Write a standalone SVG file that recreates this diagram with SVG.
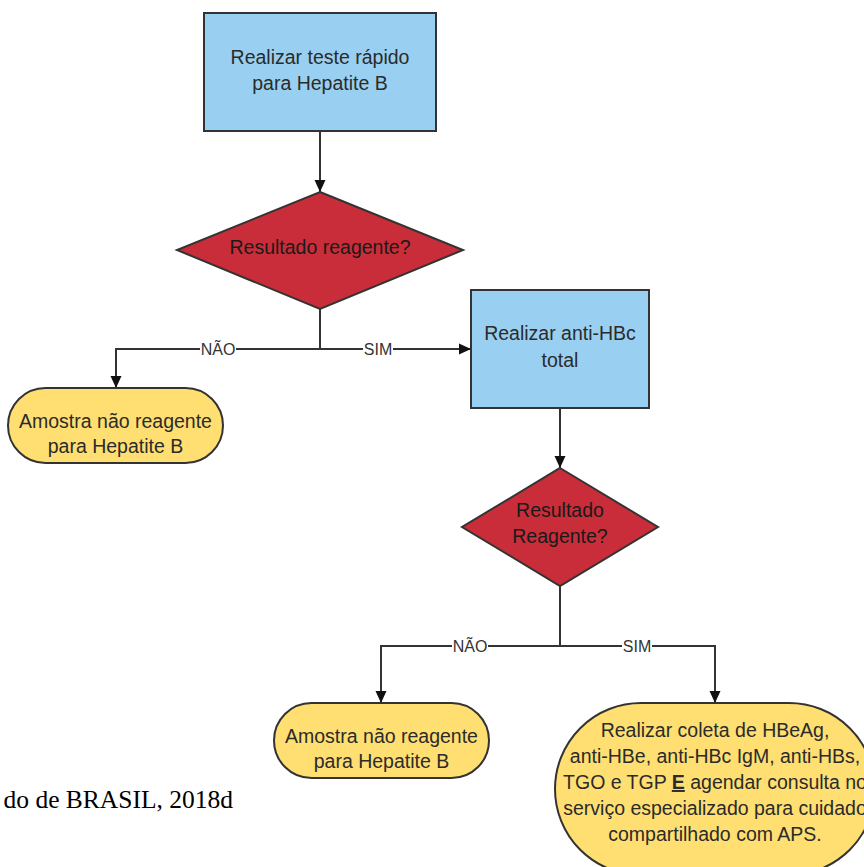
<svg xmlns="http://www.w3.org/2000/svg" width="864" height="867" viewBox="0 0 864 867">
  <style>
    .proc { fill: #99d0f1; stroke: #333333; stroke-width: 2; }
    .dec { fill: #c92d39; stroke: #333333; stroke-width: 2; }
    .term { fill: #ffdf71; stroke: #333333; stroke-width: 2; }
    .t { font-family: "Liberation Sans", Arial, sans-serif; font-size: 19.5px; fill: #2b2b2b; text-anchor: middle; }
    .td { font-family: "Liberation Sans", Arial, sans-serif; font-size: 19.5px; fill: #1a1a1a; text-anchor: middle; }
    .edge { fill: none; stroke: #333333; stroke-width: 2; }
    .lbl { font-family: "Liberation Sans", Arial, sans-serif; font-size: 16px; fill: #333333; text-anchor: middle; }
    .lblbg { fill: #ffffff; }
    .cap { font-family: "Liberation Serif", "Times New Roman", serif; font-size: 25.5px; fill: #000000; }
  </style>
  <defs>
    <marker id="arrow" markerUnits="userSpaceOnUse" markerWidth="12" markerHeight="14" refX="12" refY="7" orient="auto">
      <path d="M0,1.5 L12,7 L0,12.5 Z" fill="#111111"/>
    </marker>
  </defs>

  <rect width="864" height="867" fill="#ffffff"/>

  <!-- connectors -->
  <g id="connectors">
    <path class="edge" d="M320,131 V192" marker-end="url(#arrow)"/>
    <path class="edge" d="M320,309 V349 H116 V388" marker-end="url(#arrow)"/>
    <path class="edge" d="M320,349 H471" marker-end="url(#arrow)"/>
    <path class="edge" d="M560,408 V468" marker-end="url(#arrow)"/>
    <path class="edge" d="M560,586 V646 H381 V703" marker-end="url(#arrow)"/>
    <path class="edge" d="M560,646 H715 V703" marker-end="url(#arrow)"/>

    <rect class="lblbg" x="200" y="341" width="36" height="16"/>
    <text class="lbl" x="218" y="355">NÃO</text>
    <rect class="lblbg" x="363" y="341" width="30" height="16"/>
    <text class="lbl" x="378" y="355">SIM</text>
    <rect class="lblbg" x="452" y="638" width="36" height="16"/>
    <text class="lbl" x="470" y="652">NÃO</text>
    <rect class="lblbg" x="622" y="638" width="30" height="16"/>
    <text class="lbl" x="637" y="652">SIM</text>
  </g>

  <g id="teste-rapido">
    <rect class="proc" x="204" y="13" width="232" height="118"/>
    <text class="t" x="320" y="64">Realizar teste rápido</text>
    <text class="t" x="320" y="90">para Hepatite B</text>
  </g>

  <g id="resultado-1">
    <polygon class="dec" points="320,192 463,250 320,309 177,250"/>
    <text class="td" x="320" y="254">Resultado reagente?</text>
  </g>

  <g id="nao-reagente-1">
    <rect class="term" x="8" y="388" width="215" height="75" rx="37.5" ry="37.5"/>
    <text class="t" x="115.5" y="428">Amostra não reagente</text>
    <text class="t" x="115.5" y="453">para Hepatite B</text>
  </g>

  <g id="anti-hbc">
    <rect class="proc" x="471" y="290" width="178" height="118"/>
    <text class="t" x="560" y="340">Realizar anti-HBc</text>
    <text class="t" x="560" y="367">total</text>
  </g>

  <g id="resultado-2">
    <polygon class="dec" points="560,468 658,527 560,586 462,527"/>
    <text class="td" x="560" y="517">Resultado</text>
    <text class="td" x="560" y="543">Reagente?</text>
  </g>

  <g id="nao-reagente-2">
    <rect class="term" x="274" y="703" width="215" height="75" rx="37.5" ry="37.5"/>
    <text class="t" x="381.5" y="743">Amostra não reagente</text>
    <text class="t" x="381.5" y="768">para Hepatite B</text>
  </g>

  <g id="coleta">
    <rect class="term" x="555" y="703" width="320" height="172" rx="86" ry="86"/>
    <text class="t" x="715" y="737">Realizar coleta de HBeAg,</text>
    <text class="t" x="715" y="763">anti-HBe, anti-HBc IgM, anti-HBs,</text>
    <text class="t" x="715" y="789">TGO e TGP <tspan font-weight="bold" text-decoration="underline">E</tspan> agendar consulta no</text>
    <text class="t" x="715" y="815">serviço especializado para cuidado</text>
    <text class="t" x="715" y="841">compartilhado com APS.</text>
  </g>

  <text class="cap" x="233" y="808" text-anchor="end">do de BRASIL, 2018d</text>
</svg>
